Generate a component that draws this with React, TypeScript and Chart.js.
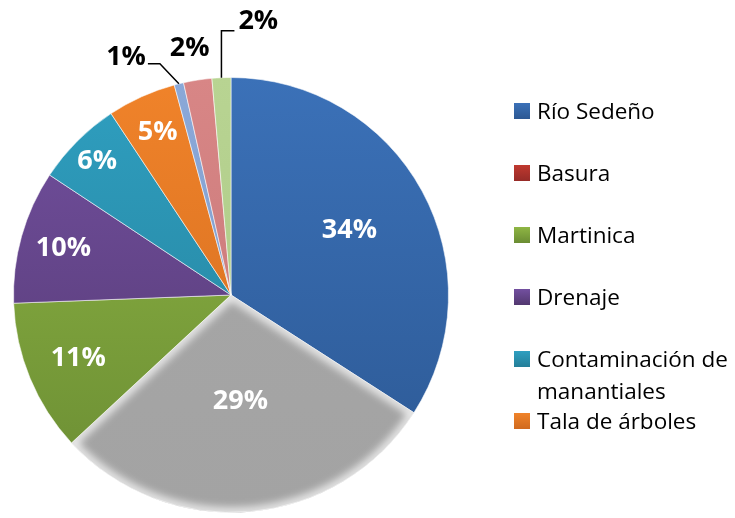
import { useEffect, useRef } from "react";
import { Chart, registerables } from "chart.js";

Chart.register(...registerables);

// ---- data ----
const categories = [
  "Río Sedeño",
  "Basura",
  "Martinica",
  "Drenaje",
  "Contaminación de manantiales",
  "Tala de árboles",
  "",
  "",
  "",
];
const values = [34.1, 29.0, 11.3, 9.9, 6.4, 5.1, 0.7, 2.1, 1.4];
const pctLabels = ["34%", "29%", "11%", "10%", "6%", "5%", "1%", "2%", "2%"];
const legendCount = 6;

// ---- styles ----
const sliceTop = ["#3b71b8", "#a7a7a7", "#8fb644", "#7350a0", "#2f9fc0", "#f0832a", "#8aa8d8", "#d88686", "#b8d492"];
const sliceBottom = ["#2c5893", "#a3a3a3", "#6a8c33", "#52386f", "#247e98", "#d06a1e", "#7f9cc8", "#c47575", "#aac684"];
const legendTop = ["#3b71b8", "#c0392f", "#8fb644", "#7350a0", "#2f9fc0", "#f0832a"];
const legendBottom = ["#2c5893", "#962b27", "#6a8c33", "#52386f", "#247e98", "#d06a1e"];
const insideLabelRadius = [0.62, 0.49, 0.76, 0.8, 0.87, 0.82];
const FONT = "'Open Sans', 'DejaVu Sans', sans-serif";

type Outside = { line: number[][]; lx: number; ly: number; align: CanvasTextAlign };
const outsideLabels: Record<number, Outside> = {
  6: { line: [[0, 0], [-19, -20], [-31, -20]], lx: -33, ly: -27, align: "right" },
  7: { line: [], lx: -8, ly: -32, align: "center" },
  8: { line: [[0, 0], [0, -47], [13, -47]], lx: 17, ly: -56, align: "left" },
};

function grad(chart: any, top: string, bottom: string) {
  const { ctx, chartArea } = chart;
  if (!chartArea) return top;
  const g = ctx.createLinearGradient(0, chartArea.top, 0, chartArea.bottom);
  g.addColorStop(0, top);
  g.addColorStop(1, bottom);
  return g;
}

const labelPlugin = {
  id: "pieLabels",
  afterDatasetsDraw(chart: any) {
    const ctx: CanvasRenderingContext2D = chart.ctx;
    const meta = chart.getDatasetMeta(0);
    // soft edges on the gray slice
    const g = meta.data[1];
    if (g) {
      const p = g.getProps(["x", "y", "startAngle", "endAngle", "outerRadius"], true);
      ctx.save();
      ctx.beginPath();
      ctx.moveTo(p.x, p.y);
      ctx.arc(p.x, p.y, p.outerRadius, p.startAngle, p.endAngle);
      ctx.closePath();
      ctx.clip();
      ctx.filter = "blur(4px)";
      ctx.lineWidth = 9;
      ctx.strokeStyle = "rgba(255,255,255,0.85)";
      ctx.beginPath();
      ctx.moveTo(p.x, p.y);
      ctx.arc(p.x, p.y, p.outerRadius, p.startAngle, p.endAngle);
      ctx.closePath();
      ctx.stroke();
      ctx.restore();
    }
    meta.data.forEach((arc: any, i: number) => {
      const p = arc.getProps(["x", "y", "startAngle", "endAngle", "outerRadius"], true);
      const mid = (p.startAngle + p.endAngle) / 2;
      ctx.save();
      ctx.font = `bold 27px ${FONT}`;
      ctx.textBaseline = "middle";
      if (i < insideLabelRadius.length) {
        const r = p.outerRadius * insideLabelRadius[i];
        ctx.fillStyle = "#ffffff";
        ctx.textAlign = "center";
        ctx.fillText(pctLabels[i], p.x + Math.cos(mid) * r, p.y + Math.sin(mid) * r);
      } else {
        const o = outsideLabels[i];
        const ex = p.x + Math.cos(mid) * p.outerRadius;
        const ey = p.y + Math.sin(mid) * p.outerRadius;
        if (o.line.length) {
          ctx.strokeStyle = "#000";
          ctx.lineWidth = 1.5;
          ctx.beginPath();
          o.line.forEach((pt, k) => {
            if (k === 0) ctx.moveTo(ex + pt[0], ey + pt[1]);
            else ctx.lineTo(ex + pt[0], ey + pt[1]);
          });
          ctx.stroke();
        }
        ctx.fillStyle = "#000";
        ctx.textAlign = o.align;
        ctx.fillText(pctLabels[i], ex + o.lx, ey + o.ly);
      }
      ctx.restore();
    });
  },
};

const legendPlugin = {
  id: "customLegend",
  afterDraw(chart: any) {
    const ctx: CanvasRenderingContext2D = chart.ctx;
    const boxX = 514;
    const textX = 537;
    const top0 = 103;
    const step = 62;
    const box = 16;
    const maxW = 198;
    ctx.save();
    ctx.font = `22.5px ${FONT}`;
    ctx.textBaseline = "alphabetic";
    ctx.textAlign = "left";
    for (let i = 0; i < legendCount; i++) {
      const y = top0 + step * i;
      const gr = ctx.createLinearGradient(0, y, 0, y + box);
      gr.addColorStop(0, legendTop[i]);
      gr.addColorStop(1, legendBottom[i]);
      ctx.fillStyle = gr;
      ctx.fillRect(boxX, y, box, box);
      // wrap words
      const words = categories[i].split(" ");
      const lines: string[] = [];
      let cur = "";
      words.forEach((w) => {
        const t = cur ? cur + " " + w : w;
        if (ctx.measureText(t).width > maxW && cur) {
          lines.push(cur);
          cur = w;
        } else cur = t;
      });
      if (cur) lines.push(cur);
      ctx.fillStyle = "#000";
      lines.forEach((ln, k) => ctx.fillText(ln, textX, y + box + k * 32));
    }
    ctx.restore();
  },
};

export default function App() {
  const ref = useRef<HTMLCanvasElement>(null);
  useEffect(() => {
    if (!ref.current) return;
    const chart = new Chart(ref.current, {
      type: "pie",
      data: {
        labels: categories,
        datasets: [
          {
            data: values,
            backgroundColor: (c: any) => grad(c.chart, sliceTop[c.dataIndex], sliceBottom[c.dataIndex]),
            borderColor: "rgba(255,255,255,0.55)",
            borderWidth: 1,
          },
        ],
      },
      options: {
        responsive: false,
        animation: false,
        devicePixelRatio: 1,
        layout: { padding: { left: 13, right: 286, top: 77, bottom: 5 } },
        plugins: { legend: { display: false }, tooltip: { enabled: false } },
      },
      plugins: [labelPlugin, legendPlugin],
    });
    return () => chart.destroy();
  }, []);
  return (
    <div style={{ position: "fixed", left: 0, top: 0, width: 735, height: 518, background: "#fff" }}>
      <canvas ref={ref} width={735} height={518} />
    </div>
  );
}
